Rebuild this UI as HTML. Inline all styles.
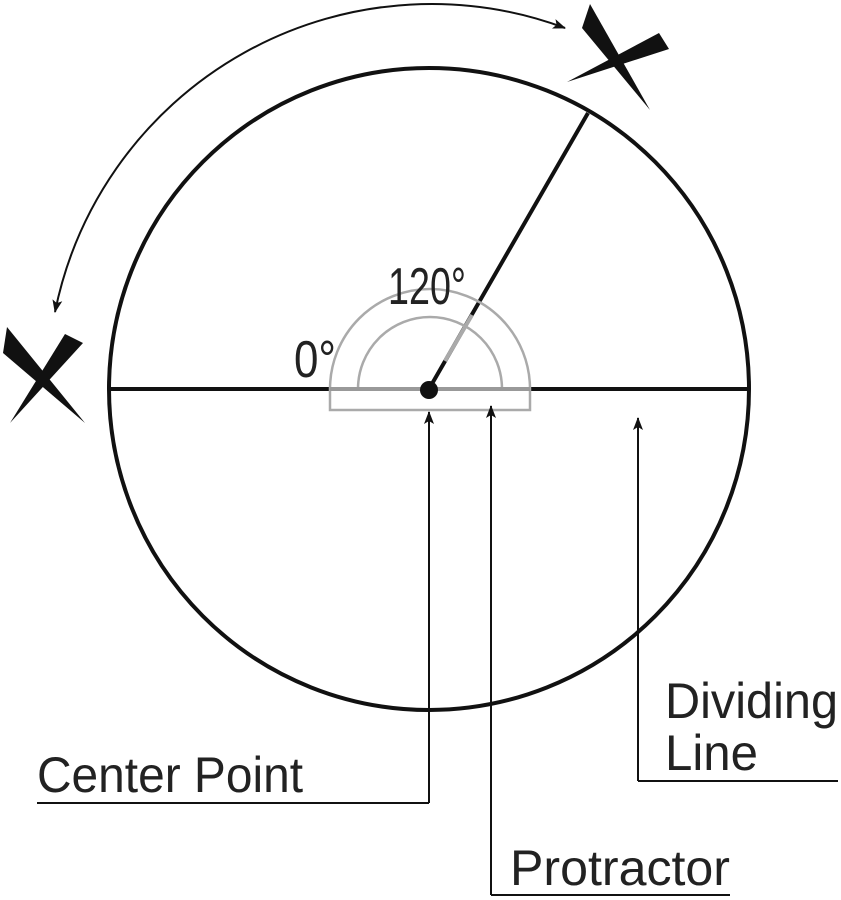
<!DOCTYPE html>
<html><head><style>body{margin:0;background:#fff}svg{display:block}text{font-family:"Liberation Sans",sans-serif;fill:#222}</style></head>
<body>
<svg width="841" height="900" viewBox="0 0 841 900" xmlns="http://www.w3.org/2000/svg">
<defs><marker id="a" markerWidth="14" markerHeight="12" refX="12" refY="5" orient="auto" markerUnits="userSpaceOnUse"><path d="M0,0 L13,5 L0,10 L3,5 Z" fill="#111"/></marker></defs>
<ellipse cx="429" cy="389" rx="320" ry="321" fill="none" stroke="#111" stroke-width="4"/>
<line x1="109" y1="389" x2="749" y2="389" stroke="#111" stroke-width="4"/>
<line x1="429" y1="389" x2="588" y2="113" stroke="#111" stroke-width="4"/>
<path d="M330,389 A100,100 0 0 1 530,389 L530,410 L330,410 Z" fill="none" stroke="#aaa" stroke-width="2.5"/>
<path d="M358,389 A72,72 0 0 1 502,389" fill="none" stroke="#aaa" stroke-width="2.5"/>
<line x1="330" y1="389" x2="530" y2="389" stroke="#999" stroke-width="4"/>
<line x1="445" y1="361" x2="472" y2="315" stroke="#aaa" stroke-width="4"/>
<circle cx="429" cy="390" r="9" fill="#111"/>
<text x="388" y="304" font-size="52" textLength="78" lengthAdjust="spacingAndGlyphs">120°</text>
<text x="294" y="377" font-size="52" textLength="42" lengthAdjust="spacingAndGlyphs">0°</text>
<path d="M55,312 A384,384 0 0 1 565,28" fill="none" stroke="#111" stroke-width="2" marker-end="url(#a)"/>
<path d="M565,28 A384,384 0 0 0 55,312" fill="none" stroke="none" marker-end="url(#a)"/>
<g fill="#111">
<polygon points="590,4 582,28 650,110"/>
<polygon points="659,33 669,49 567,82"/>
<polygon points="7,327 3,353 85,423"/>
<polygon points="65,334 83,343 10,423"/>
</g>
<g stroke="#111" stroke-width="2" fill="none">
<polyline points="429,803 429,412" marker-end="url(#a)"/>
<polyline points="37,803 429,803"/>
<polyline points="491,895 491,406" marker-end="url(#a)"/>
<polyline points="491,895 730,895"/>
<polyline points="638,781 638,418" marker-end="url(#a)"/>
<polyline points="638,781 838,781"/>
</g>
<text x="37" y="792" font-size="50" textLength="266" lengthAdjust="spacingAndGlyphs">Center Point</text>
<text x="510" y="885" font-size="50" textLength="220" lengthAdjust="spacingAndGlyphs">Protractor</text>
<text x="665" y="718" font-size="50" textLength="173" lengthAdjust="spacingAndGlyphs">Dividing</text>
<text x="665" y="770" font-size="50" textLength="93" lengthAdjust="spacingAndGlyphs">Line</text>
</svg>
</body></html>
